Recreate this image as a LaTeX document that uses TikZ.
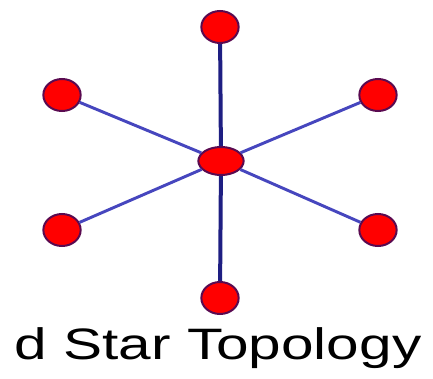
\documentclass[tikz,border=0pt]{standalone}
\usepackage{fontspec}
\setmainfont{Liberation Sans}
\usetikzlibrary{shapes.geometric}
\begin{document}
\begin{tikzpicture}[x=0.75pt,y=-0.75pt,
    host/.style={ellipse,fill=red,draw=hostedge,line width=1.5pt,
        minimum width=28pt,minimum height=24pt,inner sep=0pt},
    trunk/.style={draw=trunkcol,line width=3pt},
    spoke/.style={draw=spokecol,line width=2.2pt}]
\definecolor{hostedge}{RGB}{90,10,80}
\definecolor{trunkcol}{RGB}{30,30,130}
\definecolor{spokecol}{RGB}{70,70,190}
\useasboundingbox (0,0) rectangle (433,379);

\node[host,minimum width=34pt,minimum height=21pt] (hub) at (221,161) {};
\node[host] (top) at (220,27) {};
\node[host] (ul) at (62,95) {};
\node[host] (ur) at (378,95) {};
\node[host] (ll) at (62,230) {};
\node[host] (lr) at (378,230) {};
\node[host] (bot) at (220,298) {};

\draw[trunk] (hub)--(top);
\draw[trunk] (hub)--(bot);
\draw[spoke] (hub)--(ul);
\draw[spoke] (hub)--(ur);
\draw[spoke] (hub)--(ll);
\draw[spoke] (hub)--(lr);

\node[xscale=1.33,font=\fontsize{33}{36}\selectfont] (caption) at (218,348) {d Star Topology};
\end{tikzpicture}
\end{document}
